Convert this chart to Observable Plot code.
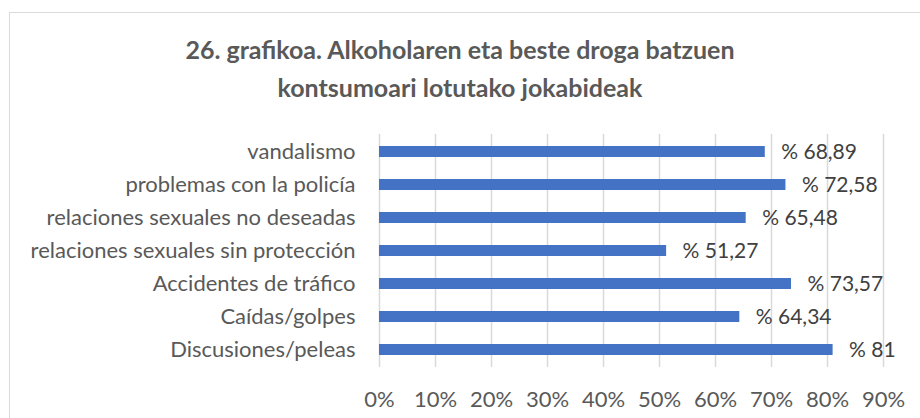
<!DOCTYPE html>
<html>
<head>
<meta charset="utf-8">
<script src="https://cdn.jsdelivr.net/npm/d3@7"></script>
<script src="https://cdn.jsdelivr.net/npm/@observablehq/plot@0.6"></script>
<style>
  html, body { margin: 0; padding: 0; background: #fff; }
  #wrap { position: relative; width: 920px; height: 418px; overflow: hidden; font-family: Lato, "Open Sans", sans-serif; }
  #frame { position: absolute; left: 9px; top: 12px; width: 1000px; height: 1000px; border: 1px solid #d9d9d9; box-sizing: border-box; }
  #title { position: absolute; left: 0; top: 30px; width: 920px; text-align: center; font-weight: bold; font-size: 25px; line-height: 38px; color: #595959; }
  #chart { position: absolute; left: 0; top: 120px; }
</style>
</head>
<body>
<div id="wrap">
  <div id="frame"></div>
  <div id="title">26. grafikoa. Alkoholaren eta beste droga batzuen<br>kontsumoari lotutako jokabideak</div>
  <div id="chart"></div>
</div>
<script>
const categories = [
  "vandalismo",
  "problemas con la policía",
  "relaciones sexuales no deseadas",
  "relaciones sexuales sin protección",
  "Accidentes de tráfico",
  "Caídas/golpes",
  "Discusiones/peleas"
];
const values = [68.89, 72.58, 65.48, 51.27, 73.57, 64.34, 81];
const valueLabels = ["% 68,89", "% 72,58", "% 65,48", "% 51,27", "% 73,57", "% 64,34", "% 81"];
const xTicks = [0, 10, 20, 30, 40, 50, 60, 70, 80, 90];

const data = categories.map((c, i) => ({cat: c, v: values[i], lab: valueLabels[i]}));

const chart = Plot.plot({
  width: 920,
  height: 298,
  marginLeft: 379,
  marginRight: 37,
  marginTop: 14,
  marginBottom: 51,
  style: {fontFamily: "Lato, 'Open Sans', sans-serif", background: "transparent"},
  x: {domain: [0, 90], ticks: xTicks, tickFormat: d => d + "%"},
  y: {domain: categories, paddingInner: 0.67, paddingOuter: 0.335},
  marks: [
    Plot.gridX(xTicks, {stroke: "#d9d9d9", strokeOpacity: 1, strokeWidth: 1.5}),
    Plot.barX(data, {x: "v", y: "cat", fill: "#4472C4"}),
    Plot.text(data, {x: "v", y: "cat", text: "lab", textAnchor: "start", dx: 16, fontSize: 21, fill: "#404040"}),
    Plot.axisX({ticks: xTicks, tickFormat: d => d + "%", tickSize: 0, tickPadding: 24, fontSize: 22, color: "#595959", label: null}),
    Plot.axisY({tickSize: 0, tickPadding: 24, fontSize: 22, color: "#595959", label: null})
  ]
});
document.getElementById("chart").appendChild(chart);
</script>
</body>
</html>
